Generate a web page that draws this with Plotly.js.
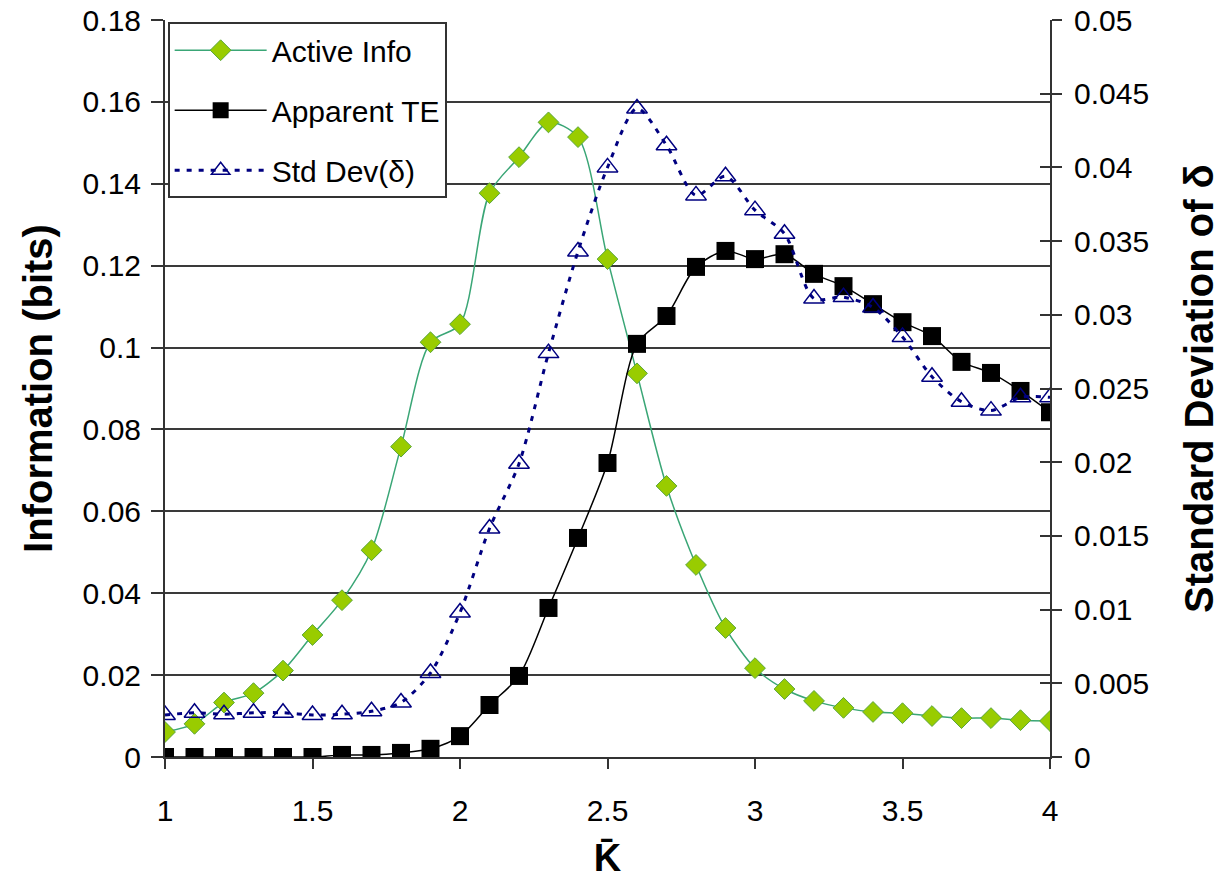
<!DOCTYPE html>
<html>
<head>
<meta charset="utf-8">
<script src="https://cdn.plot.ly/plotly-3.0.1.min.js"></script>
<style>
html,body{margin:0;padding:0;background:#fff;}
#chart{width:1221px;height:879px;}
</style>
</head>
<body>
<div id="chart"></div>
<script>
// K-bar values
var K = [1.0, 1.1, 1.2, 1.3, 1.4, 1.5, 1.6, 1.7, 1.8, 1.9,
         2.0, 2.1, 2.2, 2.3, 2.4, 2.5, 2.6, 2.7, 2.8, 2.9,
         3.0, 3.1, 3.2, 3.3, 3.4, 3.5, 3.6, 3.7, 3.8, 3.9, 4.0];

// Active Info (bits) - left axis
var activeInfo = [0.0061, 0.0081, 0.0133, 0.0156, 0.0211, 0.0298, 0.0383, 0.0505, 0.0758, 0.1013,
                  0.1057, 0.1377, 0.1465, 0.1550, 0.1514, 0.1216, 0.0937, 0.0662, 0.0469, 0.0315,
                  0.0217, 0.0166, 0.0137, 0.0120, 0.0110, 0.0107, 0.0100, 0.0095, 0.0095, 0.0090, 0.0088];

// Apparent TE (bits) - left axis
var apparentTE = [0.0000, 0.0000, 0.0000, 0.0000, 0.0000, 0.0000, 0.0005, 0.0005, 0.0010, 0.0020,
                  0.0051, 0.0127, 0.0198, 0.0364, 0.0535, 0.0718, 0.1009, 0.1077, 0.1197, 0.1236,
                  0.1216, 0.1228, 0.1180, 0.1150, 0.1106, 0.1062, 0.1028, 0.0965, 0.0938, 0.0894, 0.0842];

// Std Dev(delta) - right axis
var stdDev = [0.00285, 0.0030, 0.0029, 0.0030, 0.0030, 0.00285, 0.0029, 0.0031, 0.0037, 0.0057,
              0.0098, 0.0155, 0.0199, 0.0274, 0.0343, 0.0400, 0.0440, 0.0415, 0.0381, 0.0394,
              0.0371, 0.0355, 0.0311, 0.0312, 0.0305, 0.0285, 0.0258, 0.0241, 0.0235, 0.0244, 0.0244];

var seriesNames = ['Active Info', 'Apparent TE', 'Std Dev(\u03b4)'];

var FONT = 'Liberation Sans, Arial, sans-serif';
var TITLEFONT = 'Liberation Sans Narrow, Arial Narrow, Liberation Sans, Arial, sans-serif';

var traces = [
  {
    x: K, y: activeInfo, name: seriesNames[0], type: 'scatter', mode: 'lines+markers',
    legendgroup: 'a',
    line: {color: '#3aa676', width: 1.5, shape: 'spline', smoothing: 0.8},
    marker: {symbol: 'diamond', size: 16, color: '#99cc00', line: {color: '#5aa63a', width: 1}}
  },
  {
    x: K, y: apparentTE, name: seriesNames[1], type: 'scatter', mode: 'lines+markers',
    legendgroup: 'b',
    line: {color: '#000000', width: 1.5, shape: 'spline', smoothing: 0.8},
    marker: {symbol: 'square', size: 18, color: '#000000'}
  },
  {
    x: K, y: stdDev, name: seriesNames[2], type: 'scatter', mode: 'lines+markers',
    legendgroup: 'c', yaxis: 'y2',
    line: {color: '#000080', width: 3, dash: '5px,7px', shape: 'spline', smoothing: 0.8},
    marker: {symbol: 'triangle-up-open', size: 18, color: '#000080', line: {color: '#000080', width: 1.5}}
  },
  {
    // empty helper trace so the crossing tick axis is drawn
    x: [], y: [], yaxis: 'y3', type: 'scatter', mode: 'markers', showlegend: false, hoverinfo: 'skip'
  }
];

var layout = {
  width: 1221, height: 879,
  paper_bgcolor: '#ffffff', plot_bgcolor: '#ffffff',
  margin: {l: 165, r: 171, t: 20, b: 122},
  font: {family: FONT, size: 30, color: '#000'},
  showlegend: true,
  legend: {
    x: 0.003, y: 0.997, xanchor: 'left', yanchor: 'top',
    bgcolor: '#ffffff', bordercolor: '#333333', borderwidth: 2,
    font: {family: FONT, size: 30, color: '#000'},
    itemwidth: 92, tracegroupgap: 18, traceorder: 'grouped'
  },
  xaxis: {
    range: [1, 4], dtick: 0.5, tick0: 1,
    showgrid: false, zeroline: false,
    showline: true, linecolor: '#333333', linewidth: 2,
    ticks: 'outside', ticklen: 10, tickwidth: 2, tickcolor: '#333333',
    ticklabelstandoff: 16,
    tickfont: {family: FONT, size: 30, color: '#000'},
    title: {text: 'K\u0304', standoff: 20, font: {family: 'Liberation Sans, Arial, sans-serif', size: 38, color: '#000', weight: 'bold'}}
  },
  yaxis: {
    range: [0, 0.18], dtick: 0.02, tick0: 0,
    showgrid: true, gridcolor: '#3a3a3a', gridwidth: 2,
    zeroline: false,
    showline: true, linecolor: '#333333', linewidth: 2,
    ticks: 'outside', ticklen: 12, tickwidth: 2, tickcolor: '#333333',
    ticklabelstandoff: 4,
    tickfont: {family: FONT, size: 30, color: '#000'},
    title: {text: 'Information (bits)', standoff: 18, font: {family: TITLEFONT, size: 40, color: '#000', weight: 'bold'}}
  },
  yaxis2: {
    range: [0, 0.05], dtick: 0.005, tick0: 0,
    overlaying: 'y', side: 'right', anchor: 'x',
    showgrid: false, zeroline: false,
    showline: true, linecolor: '#333333', linewidth: 2,
    ticks: 'outside', ticklen: 10, tickwidth: 2, tickcolor: '#333333',
    ticklabelstandoff: 6,
    tickfont: {family: FONT, size: 30, color: '#000'},
    title: {text: 'Standard Deviation of \u03b4', standoff: 38, font: {family: TITLEFONT, size: 40, color: '#000', weight: 'bold'}}
  },
  yaxis3: {
    range: [0, 0.05], dtick: 0.005, tick0: 0,
    overlaying: 'y', side: 'right', anchor: 'x',
    showgrid: false, zeroline: false, showline: false,
    ticks: 'inside', ticklen: 10, tickwidth: 2, tickcolor: '#333333',
    showticklabels: false
  }
};

Plotly.newPlot('chart', traces, layout, {displayModeBar: false, staticPlot: true});
</script>
</body>
</html>
